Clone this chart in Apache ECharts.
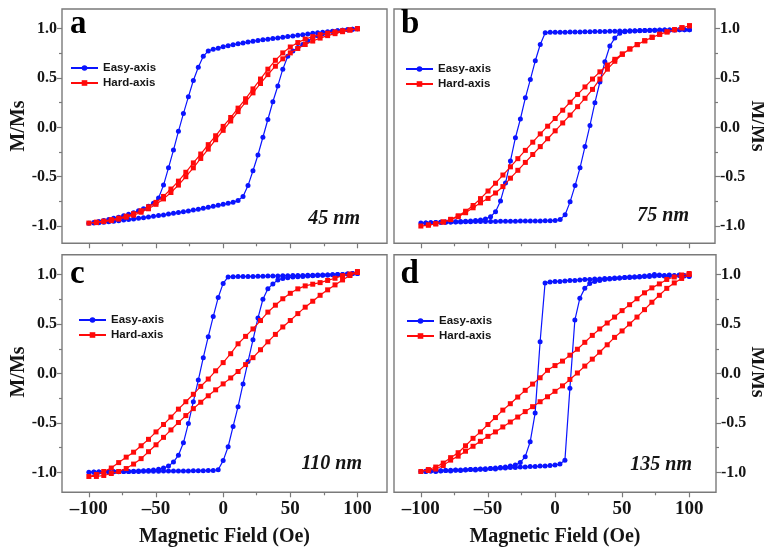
<!DOCTYPE html>
<html><head><meta charset="utf-8">
<script src="https://cdn.jsdelivr.net/npm/echarts@6/dist/echarts.min.js"></script>
<style>html,body{margin:0;padding:0;background:#fff}#c{width:764px;height:547px}</style>
</head><body><div id="c"></div>
<script>
// ---------------- DATA ----------------
const fieldEasy = [
 -100, -96.3, -92.6, -88.9, -85.2, -81.5, -77.8, -74.1, -70.4, -66.7, -63.0,
 -59.3, -55.6, -51.9, -48.1, -44.4, -40.7, -37.0, -33.3, -29.6, -25.9, -22.2,
 -18.5, -14.8, -11.1, -7.4, -3.7, 0, 3.7, 7.4, 11.1, 14.8, 18.5,
 22.2, 25.9, 29.6, 33.3, 37.0, 40.7, 44.4, 48.1, 51.9, 55.6, 59.3,
 63.0, 66.7, 70.4, 74.1, 77.8, 81.5, 85.2, 88.9, 92.6, 96.3, 100];
const fieldHard = [
 -100, -94.4, -88.9, -83.3, -77.8, -72.2, -66.7, -61.1, -55.6, -50,
 -44.4, -38.9, -33.3, -27.8, -22.2, -16.7, -11.1, -5.6, 0,
 5.6, 11.1, 16.7, 22.2, 27.8, 33.3, 38.9, 44.4, 50,
 55.6, 61.1, 66.7, 72.2, 77.8, 83.3, 88.9, 94.4, 100];

// Panel a (45 nm) - values listed in order of increasing field
const aEasyDesc = [
 -0.972,-0.965,-0.955,-0.945,-0.935,-0.92,-0.91,-0.895,-0.88,-0.865,-0.845,
 -0.825,-0.80,-0.77,-0.715,-0.585,-0.41,-0.23,-0.04,0.14,0.31,0.475,
 0.61,0.72,0.775,0.792,0.803,0.818,0.828,0.838,0.847,0.856,0.865,
 0.874,0.881,0.888,0.894,0.90,0.907,0.913,0.92,0.927,0.933,0.94,
 0.946,0.953,0.959,0.964,0.969,0.974,0.979,0.984,0.99,0.995,1.0];
const aEasyAsc = [
 -0.972,-0.97,-0.967,-0.962,-0.957,-0.951,-0.946,-0.94,-0.934,-0.928,-0.922,
 -0.915,-0.908,-0.901,-0.894,-0.887,-0.879,-0.871,-0.863,-0.855,-0.847,-0.838,
 -0.829,-0.82,-0.81,-0.80,-0.79,-0.78,-0.77,-0.76,-0.74,-0.70,-0.59,
 -0.44,-0.28,-0.10,0.08,0.26,0.42,0.59,0.72,0.775,0.81,0.84,
 0.875,0.905,0.93,0.948,0.962,0.972,0.979,0.985,0.99,0.995,1.0];
const aHardDesc = [
 -0.97,-0.96,-0.95,-0.935,-0.92,-0.90,-0.875,-0.845,-0.805,-0.76,
 -0.70,-0.625,-0.545,-0.455,-0.36,-0.27,-0.175,-0.085,0.01,
 0.10,0.195,0.29,0.39,0.49,0.59,0.68,0.755,0.815,
 0.86,0.895,0.92,0.94,0.955,0.968,0.98,0.99,1.0];
const aHardAsc = [
 -0.97,-0.965,-0.955,-0.945,-0.93,-0.91,-0.89,-0.86,-0.825,-0.78,
 -0.725,-0.66,-0.585,-0.50,-0.41,-0.315,-0.22,-0.125,-0.03,
 0.065,0.16,0.255,0.35,0.445,0.535,0.62,0.695,0.755,
 0.80,0.84,0.875,0.905,0.93,0.95,0.97,0.985,1.0];

// Panel b (75 nm)
const bEasyDesc = [
 -0.97,-0.968,-0.966,-0.964,-0.962,-0.96,-0.958,-0.956,-0.954,-0.951,-0.948,
 -0.944,-0.938,-0.928,-0.905,-0.855,-0.745,-0.565,-0.34,-0.105,0.085,0.30,
 0.485,0.675,0.84,0.96,0.964,0.964,0.965,0.965,0.966,0.967,0.968,
 0.969,0.97,0.971,0.972,0.973,0.974,0.975,0.977,0.978,0.979,0.98,
 0.981,0.982,0.983,0.984,0.985,0.986,0.987,0.988,0.989,0.99,0.99];
const bEasyAsc = [
 -0.97,-0.968,-0.966,-0.964,-0.962,-0.961,-0.96,-0.959,-0.958,-0.957,-0.956,
 -0.955,-0.955,-0.954,-0.953,-0.953,-0.952,-0.952,-0.951,-0.951,-0.95,-0.95,
 -0.949,-0.949,-0.948,-0.947,-0.946,-0.944,-0.935,-0.885,-0.755,-0.59,-0.41,
 -0.195,0.02,0.25,0.46,0.665,0.825,0.905,0.955,0.97,0.975,0.978,
 0.98,0.982,0.984,0.985,0.986,0.987,0.988,0.989,0.99,0.99,0.99];
const bHardDesc = [
 -1.0,-0.99,-0.977,-0.958,-0.932,-0.896,-0.85,-0.792,-0.722,-0.645,
 -0.566,-0.483,-0.40,-0.317,-0.233,-0.15,-0.066,0.012,0.09,
 0.174,0.255,0.334,0.41,0.49,0.563,0.632,0.69,0.745,
 0.795,0.838,0.878,0.914,0.944,0.968,0.99,1.01,1.03];
const bHardAsc = [
 -1.0,-0.99,-0.978,-0.96,-0.935,-0.905,-0.865,-0.815,-0.765,-0.72,
 -0.665,-0.60,-0.515,-0.435,-0.355,-0.275,-0.195,-0.115,-0.035,
 0.045,0.125,0.21,0.295,0.385,0.49,0.59,0.67,0.74,
 0.795,0.84,0.878,0.912,0.943,0.968,0.99,1.01,1.03];

// Panel c (110 nm)
const cEasyDesc = [
 -0.997,-0.996,-0.995,-0.994,-0.993,-0.992,-0.991,-0.99,-0.989,-0.987,-0.985,
 -0.983,-0.98,-0.975,-0.968,-0.955,-0.935,-0.895,-0.825,-0.70,-0.504,-0.285,
 -0.066,0.16,0.372,0.575,0.767,0.91,0.975,0.978,0.979,0.98,0.98,
 0.981,0.982,0.983,0.984,0.985,0.986,0.987,0.988,0.989,0.99,0.991,
 0.992,0.993,0.994,0.995,0.996,0.998,1.0,1.0,1.005,1.01,1.01];
const cEasyAsc = [
 -0.997,-0.997,-0.996,-0.995,-0.994,-0.993,-0.992,-0.991,-0.99,-0.99,-0.989,
 -0.988,-0.988,-0.987,-0.987,-0.986,-0.986,-0.985,-0.985,-0.984,-0.984,-0.983,
 -0.983,-0.982,-0.981,-0.98,-0.972,-0.88,-0.74,-0.535,-0.335,-0.105,0.12,
 0.34,0.56,0.75,0.855,0.905,0.945,0.96,0.968,0.974,0.978,0.981,
 0.984,0.987,0.99,0.993,0.996,0.998,1.0,1.0,1.005,1.01,1.01];
const cHardDesc = [
 -1.04,-1.02,-0.99,-0.955,-0.90,-0.845,-0.795,-0.73,-0.665,-0.59,
 -0.515,-0.44,-0.36,-0.285,-0.21,-0.13,-0.056,0.027,0.11,
 0.20,0.30,0.375,0.45,0.535,0.62,0.69,0.755,0.81,
 0.855,0.885,0.902,0.918,0.94,0.962,0.988,1.005,1.03];
const cHardAsc = [
 -1.04,-1.04,-1.03,-1.01,-0.99,-0.96,-0.915,-0.86,-0.79,-0.72,
 -0.645,-0.57,-0.495,-0.425,-0.355,-0.29,-0.225,-0.165,-0.105,
 -0.045,0.02,0.09,0.16,0.24,0.32,0.395,0.47,0.535,
 0.605,0.67,0.73,0.79,0.845,0.895,0.945,0.99,1.02];

// Panel d (135 nm)
const dEasyDesc = [
 -0.99,-0.988,-0.986,-0.984,-0.982,-0.98,-0.978,-0.977,-0.975,-0.972,-0.97,
 -0.968,-0.966,-0.963,-0.96,-0.955,-0.95,-0.945,-0.935,-0.925,-0.90,-0.84,
 -0.69,-0.40,0.32,0.915,0.925,0.93,0.93,0.935,0.94,0.94,0.945,
 0.95,0.95,0.955,0.955,0.96,0.96,0.965,0.965,0.97,0.97,0.975,
 0.975,0.98,0.98,0.985,0.99,0.985,0.99,0.985,0.99,0.985,0.98];
const dEasyAsc = [
 -0.99,-0.99,-0.985,-0.99,-0.985,-0.98,-0.985,-0.975,-0.98,-0.975,-0.97,
 -0.975,-0.965,-0.97,-0.96,-0.965,-0.955,-0.955,-0.95,-0.95,-0.945,-0.945,
 -0.94,-0.94,-0.935,-0.935,-0.93,-0.925,-0.915,-0.875,-0.15,0.54,0.76,
 0.86,0.91,0.93,0.94,0.95,0.955,0.96,0.965,0.97,0.975,0.975,
 0.98,0.985,0.99,1.0,0.995,0.99,0.995,0.99,0.995,0.99,0.985];
const dHardDesc = [
 -0.99,-0.97,-0.945,-0.905,-0.85,-0.80,-0.73,-0.655,-0.59,-0.515,
 -0.445,-0.37,-0.305,-0.238,-0.17,-0.107,-0.043,0.032,0.08,
 0.125,0.185,0.245,0.315,0.385,0.45,0.51,0.57,0.635,
 0.695,0.755,0.815,0.865,0.905,0.95,0.975,0.995,1.01];
const dHardAsc = [
 -0.99,-0.98,-0.965,-0.93,-0.875,-0.835,-0.785,-0.735,-0.685,-0.635,
 -0.59,-0.54,-0.49,-0.44,-0.385,-0.335,-0.285,-0.235,-0.18,
 -0.125,-0.06,0.005,0.075,0.145,0.215,0.29,0.365,0.43,
 0.50,0.57,0.645,0.72,0.79,0.86,0.915,0.96,1.0];

const xTickValues = [-100, -50, 0, 50, 100];
const xMinorTicks = [-75, -25, 25, 75];
const yTickValues = [-1, -0.5, 0, 0.5, 1];
const yMinorTicks = [-0.75, -0.25, 0.25, 0.75];
const panelLetters = ['a', 'b', 'c', 'd'];
const thicknessLabels = ['45 nm', '75 nm', '110 nm', '135 nm'];
const seriesNames = ['Easy-axis', 'Hard-axis'];
const xTitle = 'Magnetic Field (Oe)';
const yTitle = 'M/Ms';

// ---------------- BUILD ----------------
const easySets = [[aEasyDesc, aEasyAsc], [bEasyDesc, bEasyAsc], [cEasyDesc, cEasyAsc], [dEasyDesc, dEasyAsc]];
const hardSets = [[aHardDesc, aHardAsc], [bHardDesc, bHardAsc], [cHardDesc, cHardAsc], [dHardDesc, dHardAsc]];
function loop(field, desc, asc) {
  if (desc.length !== field.length || asc.length !== field.length) throw new Error('length mismatch ' + field.length + ' ' + desc.length + ' ' + asc.length);
  const pts = [];
  for (let i = field.length - 1; i >= 0; i--) pts.push([field[i], desc[i]]);
  for (let i = 1; i < field.length; i++) pts.push([field[i], asc[i]]);
  return pts;
}

const SERIF = '"Liberation Serif", "Times New Roman", serif';
const SANS = '"Liberation Sans", Arial, sans-serif';
const FRAME = '#7a7a7a';
const TXT = '#151515';

const panels = [
  {grid: {left: 62, top: 9, width: 325, height: 234.3}, xMin: -120, xMax: 122, yMin: -1.175, yMax: 1.2, yPos: 'left', showX: false,
   legend: {left: 70, top: 61.5}, letter: [70, 24.5], thick: [360, 219], yTitlePos: [19, 126]},
  {grid: {left: 394, top: 9, width: 321, height: 234.3}, xMin: -120, xMax: 119, yMin: -1.175, yMax: 1.2, yPos: 'right', showX: false,
   legend: {left: 405, top: 62.5}, letter: [401, 24.5], thick: [689, 216], yTitlePos: [757.5, 126]},
  {grid: {left: 62, top: 254.7, width: 325, height: 237.6}, xMin: -120, xMax: 122, yMin: -1.2, yMax: 1.2, yPos: 'left', showX: true,
   legend: {left: 78, top: 313.5}, letter: [70, 274], thick: [362, 463.5], yTitlePos: [19, 372]},
  {grid: {left: 394, top: 254.7, width: 322, height: 237.6}, xMin: -120, xMax: 120, yMin: -1.2, yMax: 1.2, yPos: 'right', showX: true,
   legend: {left: 406, top: 314.5}, letter: [400.5, 274], thick: [692, 465], yTitlePos: [757.5, 372]}
];

const grids = [], xAxes = [], yAxes = [], series = [], legends = [], graphics = [];
const tickLine = {color: FRAME, width: 1.2};
const noLine = {show: false, onZero: false};
panels.forEach((p, i) => {
  grids.push(Object.assign({show: true, borderColor: FRAME, borderWidth: 1.4, backgroundColor: 'transparent', containLabel: false, outerBoundsMode: 'none'}, p.grid));
  xAxes.push({type: 'value', gridIndex: i, min: p.xMin, max: p.xMax, position: 'bottom',
    axisLine: noLine, splitLine: {show: false},
    axisTick: {show: true, inside: false, length: 5, customValues: xTickValues, lineStyle: tickLine},
    axisLabel: {show: p.showX, customValues: xTickValues, margin: 7, fontFamily: SERIF, fontWeight: 'bold', fontSize: 19, color: TXT,
      formatter: v => (v < 0 ? '\u2013' + Math.abs(v) : String(v))}});
  yAxes.push({type: 'value', gridIndex: i, min: p.yMin, max: p.yMax, position: p.yPos,
    axisLine: noLine, splitLine: {show: false},
    axisTick: {show: true, inside: false, length: 5, customValues: yTickValues, lineStyle: tickLine},
    axisLabel: {show: true, customValues: yTickValues, margin: 5, fontFamily: SERIF, fontWeight: 'bold', fontSize: 16, color: TXT,
      formatter: v => v.toFixed(1)}});
  const e = easySets[i], h = hardSets[i];
  series.push({name: seriesNames[0], type: 'line', xAxisIndex: i, yAxisIndex: i, data: loop(fieldEasy, e[0], e[1]),
    symbol: 'circle', symbolSize: 5, showAllSymbol: true, color: '#0a14ff',
    lineStyle: {width: 1.2, color: '#0a14ff'}, itemStyle: {color: '#0a14ff'}, z: 2});
  series.push({name: seriesNames[1], type: 'line', xAxisIndex: i, yAxisIndex: i, data: loop(fieldHard, h[0], h[1]),
    symbol: 'rect', symbolSize: 5, showAllSymbol: true, color: '#ff0a0a',
    lineStyle: {width: 1.2, color: '#ff0a0a'}, itemStyle: {color: '#ff0a0a'}, z: 3});
  legends.push({show: true, orient: 'vertical', left: p.legend.left, top: p.legend.top, padding: 0, itemGap: 2,
    itemWidth: 27, itemHeight: 7, data: seriesNames, selectedMode: false,
    textStyle: {fontFamily: SANS, fontWeight: 'bold', fontSize: 11.5, lineHeight: 13, color: TXT}});
  graphics.push({type: 'text', x: p.letter[0], y: p.letter[1], z: 10,
    style: {text: panelLetters[i], font: 'bold 33px ' + SERIF, fill: '#000', align: 'left', verticalAlign: 'middle'}});
  graphics.push({type: 'text', x: p.thick[0], y: p.thick[1], z: 10,
    style: {text: thicknessLabels[i], font: 'italic bold 20px ' + SERIF, fill: TXT, align: 'right', verticalAlign: 'middle'}});
  graphics.push({type: 'text', x: p.yTitlePos[0], y: p.yTitlePos[1], rotation: p.yPos === 'left' ? Math.PI / 2 : -Math.PI / 2, z: 10,
    style: {text: yTitle, font: 'bold 20px ' + SERIF, fill: TXT, align: 'center', verticalAlign: 'middle'}});
  if (p.showX) {
    graphics.push({type: 'text', x: p.grid.left + p.grid.width / 2, y: 537, z: 10,
      style: {text: xTitle, font: 'bold 20px ' + SERIF, fill: TXT, align: 'center', verticalAlign: 'middle'}});
  }
});
// minor tick axes
panels.forEach((p, i) => {
  xAxes.push({type: 'value', gridIndex: i, min: p.xMin, max: p.xMax, position: 'bottom', offset: 0,
    axisLine: noLine, splitLine: {show: false}, axisLabel: {show: false},
    axisTick: {show: true, inside: false, length: 3, customValues: xMinorTicks, lineStyle: tickLine}});
  yAxes.push({type: 'value', gridIndex: i, min: p.yMin, max: p.yMax, position: p.yPos, offset: 0,
    axisLine: noLine, splitLine: {show: false}, axisLabel: {show: false},
    axisTick: {show: true, inside: false, length: 3, customValues: yMinorTicks, lineStyle: tickLine}});
});

const chart = echarts.init(document.getElementById('c'), null, {renderer: 'canvas'});
chart.setOption({
  animation: false,
  backgroundColor: '#ffffff',
  grid: grids, xAxis: xAxes, yAxis: yAxes, series: series, legend: legends, graphic: graphics
});
</script>
</body></html>
